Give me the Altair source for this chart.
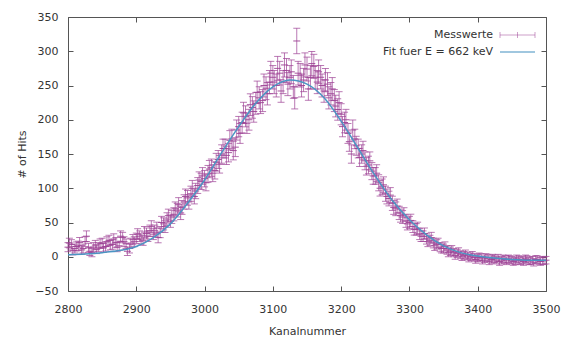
import altair as alt
import pandas as pd

channels_a = list(range(2800, 3501, 5))
counts_a = [
    14, 18, 12, 16, 10, 22, 13, 6, 17, 14,
    20, 15, 24, 18, 21, 16, 28, 19, 12, 25,
    27, 30, 24, 34, 38, 33, 42, 36, 48, 55,
    52, 62, 68, 64, 80, 86, 92, 88, 104, 110,
    114, 121, 130, 126, 142, 150, 158, 152, 172, 160,
    190, 196, 205, 200, 218, 224, 232, 228, 246, 255,
    262, 250, 268, 255, 272, 262, 248, 315, 265, 258,
    274, 262, 278, 255, 262, 242, 252, 238, 228, 215,
    208, 196, 180, 150, 172, 158, 150, 140, 134, 125,
    118, 108, 102, 92, 85, 78, 70, 64, 58, 52,
    50, 44, 40, 33, 30, 26, 24, 20, 18, 14,
    12, 10, 8, 6, 5, 3, 2, 1, 0, -1,
    -2, -1, -3, -2, -4, -3, -2, -5, -4, -3,
    -5, -6, -4, -5, -3, -6, -5, -4, -6, -5,
    -5,
]
channels_b = list(range(2802, 3500, 5))
counts_b = [
    20, 9, 15, 21, 12, 30, 8, 14, 11, 19,
    13, 22, 17, 26, 14, 30, 22, 8, 20, 22,
    33, 26, 36, 30, 44, 38, 28, 50, 44, 60,
    58, 70, 76, 72, 88, 80, 100, 96, 112, 118,
    108, 128, 122, 138, 135, 158, 148, 170, 155, 185,
    180, 210, 195, 222, 212, 240, 225, 250, 238, 268,
    255, 275, 242, 280, 252, 270, 232, 268, 250, 280,
    245, 282, 262, 270, 250, 258, 232, 245, 220, 225,
    190, 200, 168, 185, 162, 145, 155, 132, 140, 118,
    122, 100, 105, 88, 90, 72, 74, 60, 62, 48,
    53, 40, 42, 30, 34, 22, 28, 16, 20, 12,
    15, 6, 10, 2, 7, 0, 4, -2, 2, -4,
    0, -5, -1, -6, -2, -5, -7, -3, -6, -4,
    -7, -3, -6, -7, -4, -6, -8, -4, -7, -6,
]

# Fit curve
fit_channels = [2800, 2825, 2850, 2875, 2900, 2925, 2950, 2975, 3000, 3025,
                3050, 3075, 3100, 3125, 3150, 3175, 3200, 3225, 3250, 3275,
                3300, 3325, 3350, 3375, 3400, 3425, 3450, 3475, 3500]
fit_values = [3, 4, 6, 9, 15, 28, 48, 78, 112, 152,
              190, 224, 248, 258, 252, 232, 198, 158, 118, 82,
              54, 32, 16, 6, 1, -2, -4, -5, -5]

x_ticks = list(range(2800, 3501, 100))
y_ticks = list(range(-50, 351, 50))

legend_labels = ["Messwerte", "Fit fuer E = 662 keV"]

FONT = "DejaVu Sans"
DATA_COLOR = "#9c4094"
FIT_COLOR = "#4b95c3"
TEXT_COLOR = "#333333"
FRAME_COLOR = "#555555"

df = pd.DataFrame({"Kanal": channels_a + channels_b, "Hits": counts_a + counts_b})
fit_df = pd.DataFrame({"Kanal": fit_channels, "Fit": fit_values})
one = pd.DataFrame({"k": [0]})

xs = alt.Scale(domain=[2800, 3500], nice=False, zero=False, padding=0)
ys = alt.Scale(domain=[-50, 350], nice=False, zero=False, padding=0)

x_label_axis = alt.Axis(values=x_ticks, format="d", ticks=False, domain=False, grid=False,
                        labelFlush=False, labelOverlap=False,
                        labelFont=FONT, labelFontSize=11, labelColor=TEXT_COLOR,
                        labelPadding=12, title="Kanalnummer", titleFont=FONT,
                        titleFontSize=11, titleFontWeight="normal", titleColor=TEXT_COLOR,
                        titleY=40, titleBaseline="middle")
y_label_axis = alt.Axis(values=y_ticks, format="d", ticks=False, domain=False, grid=False,
                        labelFlush=False, labelOverlap=False,
                        labelFont=FONT, labelFontSize=11, labelColor=TEXT_COLOR,
                        labelPadding=10, title="# of Hits", titleFont=FONT,
                        titleFontSize=11, titleFontWeight="normal", titleColor=TEXT_COLOR,
                        titleX=-46, titleY=137, titleBaseline="middle")


def tick_axis(values, orient):
    return alt.Axis(values=values, orient=orient, labels=False, domain=False, grid=False,
                    ticks=True, tickSize=5, offset=-5, tickColor=FRAME_COLOR, title=None)


base = alt.Chart(df).transform_calculate(
    err="sqrt(max(datum.Hits, 0) + 30)"
).transform_calculate(
    lo="datum.Hits - datum.err", hi="datum.Hits + datum.err"
)

bars = base.mark_rule(color=DATA_COLOR, opacity=0.7, strokeWidth=1).encode(
    x=alt.X("Kanal:Q", scale=xs, axis=x_label_axis),
    y=alt.Y("lo:Q", scale=ys, axis=y_label_axis),
    y2="hi:Q",
)

caps_lo = base.mark_tick(orient="horizontal", size=7, thickness=1, color=DATA_COLOR, opacity=0.7).encode(
    x=alt.X("Kanal:Q", scale=xs, axis=tick_axis(x_ticks, "bottom")),
    y=alt.Y("lo:Q", scale=ys, axis=tick_axis(y_ticks, "left")),
)

caps_hi = base.mark_tick(orient="horizontal", size=7, thickness=1, color=DATA_COLOR, opacity=0.7).encode(
    x=alt.X("Kanal:Q", scale=xs, axis=tick_axis(x_ticks, "top")),
    y=alt.Y("hi:Q", scale=ys, axis=tick_axis(y_ticks, "right")),
)

centers = base.mark_tick(orient="horizontal", size=7, thickness=1, color=DATA_COLOR, opacity=0.9).encode(
    x=alt.X("Kanal:Q", scale=xs, axis=None),
    y=alt.Y("Hits:Q", scale=ys, axis=None),
)

fit = alt.Chart(fit_df).mark_line(color=FIT_COLOR, strokeWidth=1.5, interpolate="monotone").encode(
    x=alt.X("Kanal:Q", scale=xs, axis=None),
    y=alt.Y("Fit:Q", scale=ys, axis=None),
)

leg = alt.Chart(one)
leg_text1 = leg.mark_text(align="right", baseline="middle", font=FONT, fontSize=11, color=TEXT_COLOR).encode(
    x=alt.value(425), y=alt.value(18), text=alt.value(legend_labels[0]))
leg_text2 = leg.mark_text(align="right", baseline="middle", font=FONT, fontSize=11, color=TEXT_COLOR).encode(
    x=alt.value(425), y=alt.value(35), text=alt.value(legend_labels[1]))
leg_eb_h = leg.mark_rule(color=DATA_COLOR, opacity=0.5).encode(
    x=alt.value(432), x2=alt.value(467), y=alt.value(18))
leg_eb_l = leg.mark_rule(color=DATA_COLOR, opacity=0.5).encode(
    x=alt.value(432), y=alt.value(15), y2=alt.value(21))
leg_eb_c = leg.mark_rule(color=DATA_COLOR, opacity=0.5).encode(
    x=alt.value(449.5), y=alt.value(15), y2=alt.value(21))
leg_eb_r = leg.mark_rule(color=DATA_COLOR, opacity=0.5).encode(
    x=alt.value(467), y=alt.value(15), y2=alt.value(21))
leg_fit = leg.mark_rule(color=FIT_COLOR, strokeWidth=1.5, opacity=0.7).encode(
    x=alt.value(432), x2=alt.value(467), y=alt.value(35))

chart = alt.layer(
    bars, caps_lo, caps_hi, centers, fit,
    leg_text1, leg_text2, leg_eb_h, leg_eb_l, leg_eb_c, leg_eb_r, leg_fit,
).resolve_axis(
    x="independent", y="independent"
).properties(
    width=478, height=274,
    autosize=alt.AutoSizeParams(type="none"),
    padding={"left": 68, "top": 17, "right": 17, "bottom": 51},
    background="white",
).configure_view(
    stroke=FRAME_COLOR, strokeWidth=1
)

chart.save("out.html", embed_options={"renderer": "svg", "actions": False})
